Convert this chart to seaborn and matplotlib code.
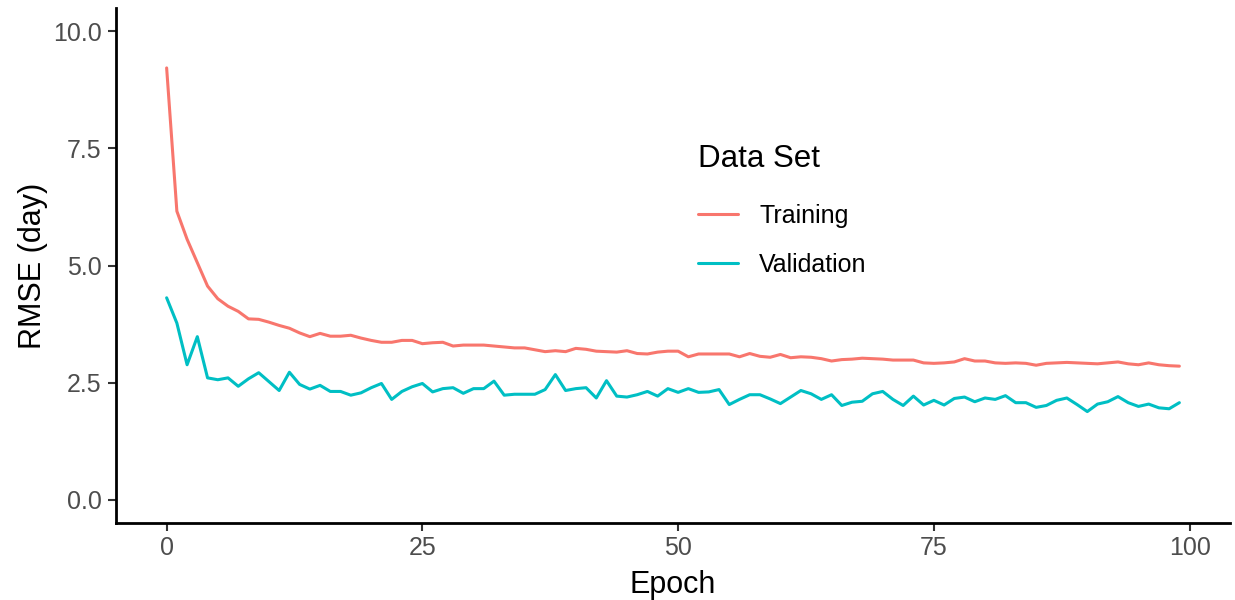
import matplotlib
matplotlib.use("Agg")
import matplotlib.pyplot as plt
import numpy as np
import pandas as pd
import seaborn as sns

# RMSE per epoch for the two data sets
epochs = list(range(100))

training_rmse = [
    9.22, 6.16, 5.56, 5.06, 4.56, 4.29, 4.13, 4.02, 3.86, 3.85,
    3.79, 3.72, 3.66, 3.56, 3.48, 3.55, 3.49, 3.49, 3.51, 3.45,
    3.40, 3.36, 3.36, 3.40, 3.40, 3.33, 3.35, 3.36, 3.28, 3.30,
    3.30, 3.30, 3.28, 3.26, 3.24, 3.24, 3.20, 3.16, 3.18, 3.16,
    3.23, 3.21, 3.17, 3.16, 3.15, 3.18, 3.12, 3.11, 3.15, 3.17,
    3.17, 3.05, 3.11, 3.11, 3.11, 3.11, 3.05, 3.12, 3.06, 3.04,
    3.10, 3.03, 3.05, 3.04, 3.01, 2.96, 2.99, 3.00, 3.02, 3.01,
    3.00, 2.98, 2.98, 2.98, 2.92, 2.91, 2.92, 2.94, 3.01, 2.96,
    2.96, 2.92, 2.91, 2.92, 2.91, 2.87, 2.91, 2.92, 2.93, 2.92,
    2.91, 2.90, 2.92, 2.94, 2.90, 2.88, 2.92, 2.88, 2.86, 2.85,
]

validation_rmse = [
    4.31, 3.77, 2.88, 3.48, 2.60, 2.56, 2.60, 2.42, 2.58, 2.71,
    2.52, 2.33, 2.72, 2.46, 2.36, 2.44, 2.31, 2.31, 2.23, 2.28,
    2.39, 2.48, 2.14, 2.31, 2.41, 2.48, 2.30, 2.37, 2.39, 2.27,
    2.37, 2.37, 2.53, 2.23, 2.25, 2.25, 2.25, 2.35, 2.67, 2.33,
    2.37, 2.39, 2.17, 2.54, 2.21, 2.19, 2.24, 2.31, 2.21, 2.37,
    2.29, 2.37, 2.29, 2.30, 2.35, 2.03, 2.14, 2.24, 2.24, 2.15,
    2.05, 2.19, 2.33, 2.26, 2.14, 2.24, 2.01, 2.08, 2.10, 2.26,
    2.31, 2.14, 2.01, 2.21, 2.02, 2.12, 2.02, 2.16, 2.19, 2.09,
    2.17, 2.14, 2.22, 2.07, 2.07, 1.97, 2.01, 2.12, 2.17, 2.03,
    1.88, 2.04, 2.09, 2.20, 2.07, 1.99, 2.04, 1.96, 1.94, 2.07,
]

series_names = ["Training", "Validation"]
series_colors = ["#F8766D", "#00BFC4"]
x_ticks = [0, 25, 50, 75, 100]
y_ticks = [0.0, 2.5, 5.0, 7.5, 10.0]
y_tick_labels = ["0.0", "2.5", "5.0", "7.5", "10.0"]

df = pd.DataFrame({
    "Epoch": epochs * 2,
    "RMSE": training_rmse + validation_rmse,
    "Data Set": [series_names[0]] * len(epochs) + [series_names[1]] * len(epochs),
})

sns.set_theme(style="white")
plt.rcParams["font.family"] = ["Liberation Sans", "DejaVu Sans"]
plt.rcParams["text.color"] = "black"

fig = plt.figure(figsize=(12.35, 6.0), dpi=100)
ax = fig.add_axes([116 / 1235, 1 - 523 / 600, (1230 - 116) / 1235, (523 - 8) / 600])

sns.lineplot(
    data=df, x="Epoch", y="RMSE", hue="Data Set",
    palette=dict(zip(series_names, series_colors)),
    linewidth=2.2, ax=ax, legend=True,
)

ax.set_xlim(-4.95, 103.95)
ax.set_ylim(-0.5, 10.5)
ax.set_xticks(x_ticks)
ax.set_xticklabels([str(t) for t in x_ticks])
ax.set_yticks(y_ticks)
ax.set_yticklabels(y_tick_labels)

for side in ["top", "right"]:
    ax.spines[side].set_visible(False)
for side in ["left", "bottom"]:
    ax.spines[side].set_color("black")
    ax.spines[side].set_linewidth(2.0)

ax.tick_params(axis="both", which="major", length=5.5, width=1.5,
               color="#333333", labelcolor="#4D4D4D", labelsize=18,
               left=True, bottom=True)
ax.tick_params(axis="x", pad=4)
ax.tick_params(axis="y", pad=5)

ax.set_xlabel("Epoch", fontsize=22, color="black", labelpad=7)
ax.set_ylabel("RMSE (day)", fontsize=22, color="black", labelpad=3.5)

handles, labels = ax.get_legend_handles_labels()
for h in handles:
    h.set_linewidth(2.2)
leg = ax.legend(
    handles, labels, title="Data Set",
    loc="upper left", bbox_to_anchor=(698 / 1235, 1 - 144 / 600),
    bbox_transform=fig.transFigure,
    frameon=False, fontsize=18, title_fontsize=22.5,
    handlelength=1.6, handletextpad=0.85, labelspacing=1.0,
    borderpad=0, borderaxespad=0,
)
leg._legend_box.align = "left"
leg._legend_box.sep = 21.5
leg.get_title().set_color("black")
for t in leg.get_texts():
    t.set_color("black")

fig.savefig("out.png", dpi=100, facecolor="white")
